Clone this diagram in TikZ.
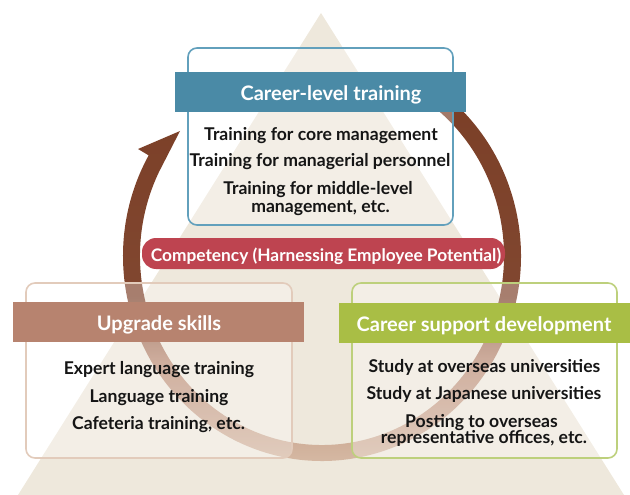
\documentclass[tikz,border=0pt]{standalone}
\usepackage{fontspec}
\setmainfont{Lato}
\definecolor{tri}{HTML}{EEE8DC}
\definecolor{ringA}{HTML}{DCC4AF}
\definecolor{ringB}{HTML}{BC8E77}
\definecolor{ringC}{HTML}{814730}
\definecolor{ringD}{HTML}{7B3F27}
\definecolor{blueH}{HTML}{4A8AA6}
\definecolor{blueB}{HTML}{62A0BC}
\definecolor{brownH}{HTML}{B7836F}
\definecolor{brownB}{HTML}{E2CBBB}
\definecolor{greenH}{HTML}{A9BE45}
\definecolor{greenB}{HTML}{BDD07C}
\definecolor{pillC}{HTML}{BE4450}
\definecolor{ink}{HTML}{151515}
\pgfdeclareverticalshading{ringshade}{100bp}{color(0bp)=(ringA); color(25bp)=(ringA); color(40.5bp)=(ringB); color(49bp)=(ringC); color(75bp)=(ringD); color(100bp)=(ringD)}
\tikzset{
  panel/.style={draw=#1, line width=1.6pt, rounded corners=9pt, fill=white, fill opacity=0.3, draw opacity=1, inner sep=0pt, outer sep=0pt},
  header/.style={fill=#1, inner sep=0pt, outer sep=0pt, minimum width=291, minimum height=40},
  htext/.style={anchor=base, text=white, font=\fontsize{20}{23}\selectfont\bfseries, inner sep=0pt},
  btext/.style={anchor=base, text=ink, font=\fontsize{17.6}{20}\selectfont\bfseries, inner sep=0pt},
}
\begin{document}
\begin{tikzpicture}[x=1pt, y=-1pt]
\useasboundingbox (0,0) rectangle (630,495);
% background triangle
\fill[tri] (321,13) -- (624,495) -- (18,495) -- cycle;
% circular arrow
\begin{scope}[shift={(322,256)}]
\shade[shading=ringshade] (-55:199 and 205) arc[start angle=-55, end angle=209.4, x radius=199, y radius=205]
  -- (-184,-107) -- (-142,-125) -- (206.5:182 and 189)
  arc[start angle=206.5, end angle=-55, x radius=182, y radius=189] -- cycle;
\end{scope}
% panels
\node[panel=blueB, minimum width=265, minimum height=177] (topbox) at (320.5,136.5) {};
\node[panel=brownB, minimum width=266, minimum height=175] (leftbox) at (159,370.5) {};
\node[panel=greenB, minimum width=265, minimum height=175] (rightbox) at (484.5,370.5) {};
% headers
\node[header=blueH] (toph) at (320.5,92) {};
\node[header=brownH] (lefth) at (158.5,322) {};
\node[header=greenH] (righth) at (484.5,323) {};
\node[htext] (topht) at (331,100.5) {Career-level training};
\node[htext] (leftht) at (159,330) {Upgrade skills};
\node[htext] (rightht) at (484,331) {Career support development};
% competency pill
\node[fill=pillC, rounded corners=14pt, minimum width=363, minimum height=31, inner sep=0pt] (pill) at (323.5,253.5) {};
\node[anchor=base, text=white, font=\fontsize{17.3}{20}\selectfont\bfseries, inner sep=0pt] (pillt) at (326,261) {Competency (Harnessing Employee Potential)};
% top box text
\node[btext] (t1) at (321,140) {Training for core management};
\node[btext] (t2) at (320,167) {Training for managerial personnel};
\node[btext] (t3) at (318,194) {Training for middle-level};
\node[btext] (t4) at (320.5,212) {management, etc.};
% left box text
\node[btext] (l1) at (159,374) {Expert language training};
\node[btext] (l2) at (159,402) {Language training};
\node[btext] (l3) at (158.5,429) {Cafeteria training, etc.};
% right box text
\node[btext] (r1) at (484.5,372) {Study at overseas universities};
\node[btext] (r2) at (484,399) {Study at Japanese universities};
\node[btext] (r3) at (481.5,427) {Posting to overseas};
\node[btext] (r4) at (484,443.5) {representative offices, etc.};
\end{tikzpicture}
\end{document}
